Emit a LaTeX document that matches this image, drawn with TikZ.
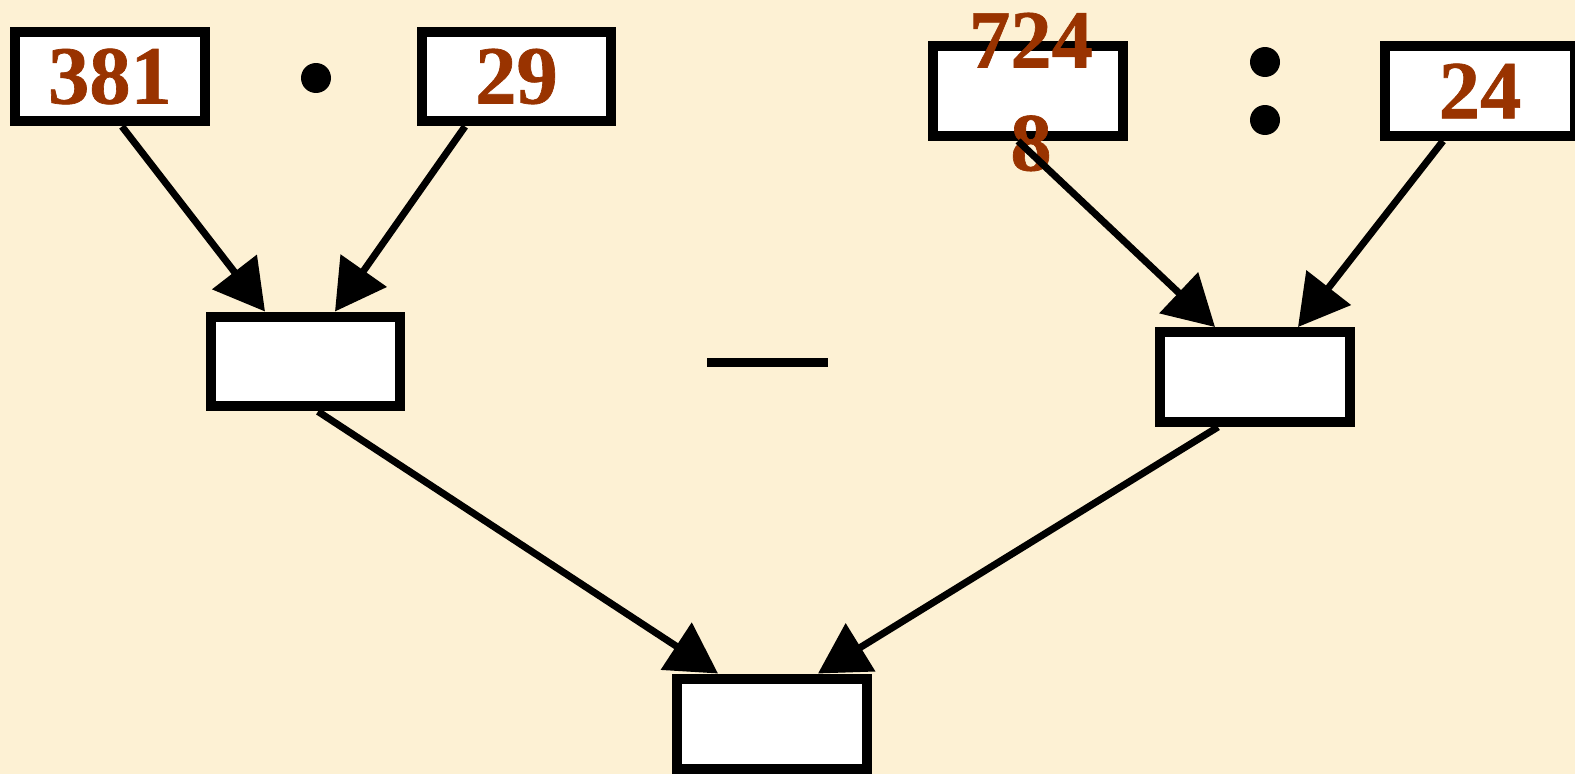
\documentclass[tikz,border=0pt]{standalone}
\usepackage{fontspec}
\setmainfont{Liberation Serif}
\newfontfamily\numfont{Liberation Serif}[BoldFeatures={FakeBold=0.8}]
\usetikzlibrary{arrows.meta}

\definecolor{numred}{RGB}{153,51,0}
\definecolor{paper}{RGB}{253,241,212}

\tikzset{
  numbox/.style={draw, fill=white, line width=0.2cm, minimum width=3.8cm, minimum height=1.8cm, inner sep=0pt},
  numtext/.style={text=numred, font=\fontsize{47}{58.6}\numfont\bfseries},
  opdot/.style={circle, fill, inner sep=0pt, minimum size=0.6cm},
  link/.style={-{Triangle[length=1cm,width=1.1cm]}, line width=0.14cm}
}

\begin{document}
\begin{tikzpicture}[x=0.02cm,y=-0.02cm]

    \fill[paper] (0,0) rectangle (1575,774);
    \useasboundingbox (0,0) rectangle (1575,774);

    % top row
    \node[numbox, numtext] (a) at (110,76.5) {\raisebox{-0.05cm}{381}};
    \node[opdot] (mul) at (316,78) {};
    \node[numbox, numtext] (b) at (516.5,76.5) {\raisebox{-0.05cm}{29}};

    \node[numbox] (c) at (1028,91) {};
    \node[numtext, align=center, inner sep=0pt] (ctext) at (1031,92) {724\\8};
    \node[opdot] (colonup) at (1265,62) {};
    \node[opdot] (colondown) at (1265,120) {};
    \node[numbox, numtext] (d) at (1480,91) {\raisebox{-0.05cm}{24}};

    % middle row
    \node[numbox] (e) at (305.5,361.5) {};
    \node[fill, inner sep=0pt, minimum width=2.42cm, minimum height=0.18cm] (minus) at (767.5,362) {};
    \node[numbox] (f) at (1255,377) {};

    % result
    \node[numbox] (g) at (772,723.5) {};

	\draw[link] ([xshift=0.24cm]a.south) to ([xshift=-0.81cm]e.north);
	\draw[link] ([xshift=-1.03cm]b.south) to ([xshift=0.59cm]e.north);
	\draw[link] ([xshift=-0.20cm]c.south) to ([xshift=-0.80cm]f.north);
	\draw[link] ([xshift=-0.74cm]d.south) to ([xshift=0.86cm]f.north);
	\draw[link] ([xshift=0.25cm]e.south) to ([xshift=-1.08cm]g.north);
	\draw[link] ([xshift=-0.74cm]f.south) to ([xshift=0.92cm]g.north);

\end{tikzpicture}
\end{document}
